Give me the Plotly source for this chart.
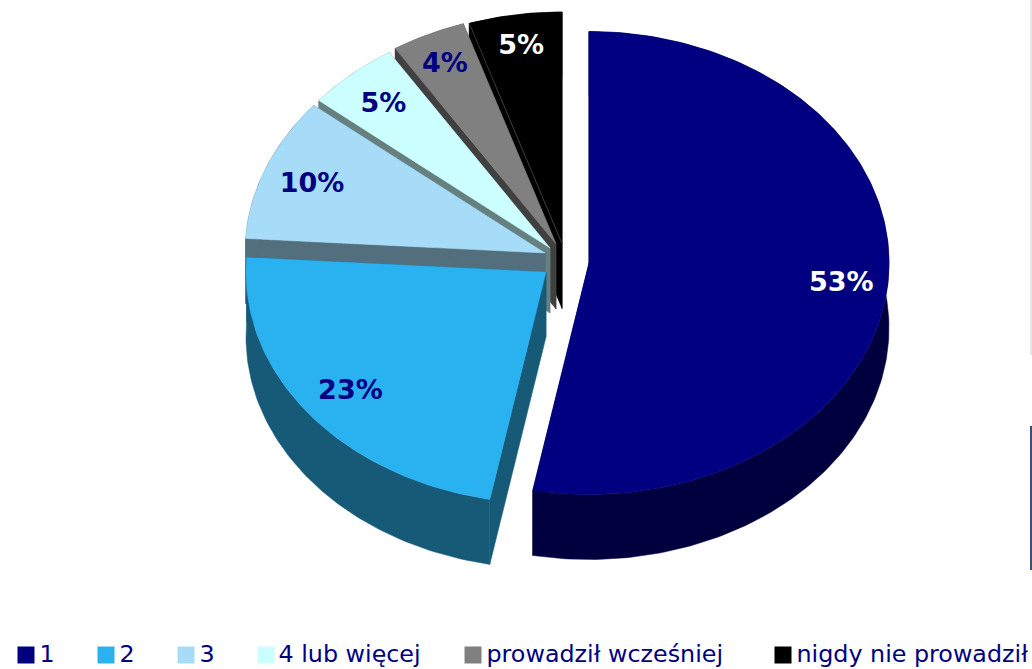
import math
import plotly.graph_objects as go

categories = ["1", "2", "3", "4 lub więcej", "prowadził wcześniej", "nigdy nie prowadził"]
values = [53, 23, 10, 5, 4, 5]
value_labels = ["53%", "23%", "10%", "5%", "4%", "5%"]

# styles and projected-pie geometry
top_colors = ["#000080", "#2AB1F0", "#A6DCF8", "#CCFFFF", "#808080", "#000000"]
wall_colors = ["#00003F", "#175A78", "#536E7C", "#668080", "#404040", "#000000"]
label_colors = ["#FFFFFF", "#000080", "#000080", "#000080", "#000080", "#FFFFFF"]
centers_x = [589, 546, 545, 550, 556, 562]
centers_y = [263, 272, 253, 248, 244, 243.5]
label_r = [0.845, 0.825, 0.835, 0.84, 0.87, 0.87]
swatch_x = [26, 106, 186, 266, 473, 783]
legend_text_x = [39.5, 119.5, 199.5, 278.5, 486.5, 796.5]
RX, RY, DEPTH = 300, 231.5, 65
LABEL_DY = 3

total = sum(values)
fig = go.Figure()


def point(cx, cy, deg, r=1.0):
    a = math.radians(deg)
    return cx + RX * r * math.sin(a), cy - RY * r * math.cos(a)


def poly(xs, ys, color):
    fig.add_trace(go.Scatter(x=xs, y=ys, mode="lines", fill="toself", fillcolor=color,
                             line=dict(color=color, width=0.5),
                             hoverinfo="skip", showlegend=False))


spans = []
acc = 0
for v in values:
    spans.append((acc / total * 360, (acc + v) / total * 360))
    acc += v

for i in reversed(range(len(values))):
    start, end = spans[i]
    cx, cy = centers_x[i], centers_y[i]
    n = max(8, int(end - start))
    arc = [point(cx, cy, start + (end - start) * k / n) for k in range(n + 1)]
    ax = [p[0] for p in arc]
    ay = [p[1] for p in arc]
    # walls: two radial cuts plus outer rim, each its own polygon
    for (px, py) in (arc[0], arc[-1]):
        poly([cx, px, px, cx, cx], [cy, py, py + DEPTH, cy + DEPTH, cy], wall_colors[i])
    poly(ax + ax[::-1] + [ax[0]], ay + [y + DEPTH for y in ay[::-1]] + [ay[0]], wall_colors[i])
    poly([cx] + ax + [cx], [cy] + ay + [cy], top_colors[i])
    if i == len(values) - 1:
        fig.add_trace(go.Scatter(x=[cx, ax[0]], y=[cy, ay[0]], mode="lines",
                                 line=dict(color="#5A5A5A", width=0.6),
                                 hoverinfo="skip", showlegend=False))

lx, ly = [], []
for i, (start, end) in enumerate(spans):
    p = point(centers_x[i], centers_y[i], (start + end) / 2, label_r[i])
    lx.append(p[0])
    ly.append(p[1] + LABEL_DY)
fig.add_trace(go.Scatter(x=lx, y=ly, mode="text", text=value_labels,
                         textposition="middle center",
                         textfont=dict(family="DejaVu Sans", size=27, color=label_colors,
                                       weight="bold"),
                         hoverinfo="skip", showlegend=False))

# legend row
fig.add_trace(go.Scatter(x=swatch_x, y=[655] * len(categories), mode="markers",
                         marker=dict(symbol="square", size=17, color=top_colors, line=dict(width=0)),
                         hoverinfo="skip", showlegend=False))
fig.add_trace(go.Scatter(x=legend_text_x, y=[656.5] * len(categories), mode="text", text=categories,
                         textposition="middle right", cliponaxis=False,
                         textfont=dict(family="DejaVu Sans", size=23.8, color="#000080"),
                         hoverinfo="skip", showlegend=False))

fig.update_layout(
    width=1032, height=669,
    margin=dict(l=0, r=0, t=0, b=0),
    paper_bgcolor="#FFFFFF", plot_bgcolor="#FFFFFF",
    xaxis=dict(range=[0, 1032], visible=False, fixedrange=True),
    yaxis=dict(range=[669, 0], visible=False, fixedrange=True),
    shapes=[
        dict(type="rect", xref="x", yref="y", x0=1030, x1=1032, y0=0, y1=355,
             fillcolor="#E6E6E6", line_width=0),
        dict(type="rect", xref="x", yref="y", x0=1030, x1=1032, y0=426, y1=570,
             fillcolor="#3B5078", line_width=0),
    ],
)

fig.write_html("out.html", config={"displayModeBar": False},
               post_script="document.body.style.margin='0';document.body.style.overflow='hidden';")
